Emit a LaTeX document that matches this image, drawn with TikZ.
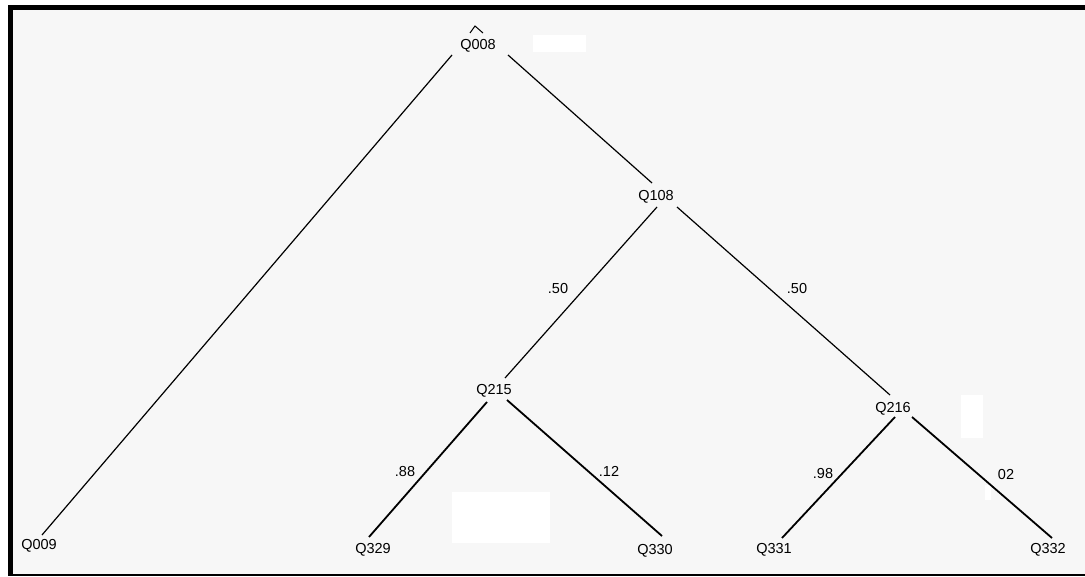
\documentclass[tikz,border=0pt]{standalone}
\usepackage{fontspec}
\setmainfont{Liberation Sans}
\usepackage{tikz}
\colorlet{paper}{black!3}
\colorlet{ink}{black}
\def\thin{1.2pt}
\def\thick{1.8pt}

\begin{document}
\begin{tikzpicture}[x=1pt, y=-1pt,
    lbl/.style={inner sep=0pt, text height=10pt, text depth=0pt, text=ink,
      font=\fontsize{14.5}{14.5}\selectfont},
    upper/.style={line width=\thin, ink},
    lower/.style={line width=\thick, ink}]
  \useasboundingbox (0,0) rectangle (1085,577);

  % sheet and frame
  \fill[paper] (8,5) rectangle (1085,576);
  \fill (8,5) rectangle (1085,10);
  \fill (8,5) rectangle (13,576);
  \fill (8,574) rectangle (1085,576);

  % blanked patches
  \fill[white] (533,35) rectangle (586,52);
  \fill[white] (452,492) rectangle (550,543);
  \fill[white] (961,395) rectangle (983,438);
  \fill[white] (985,485) rectangle (991,500);

  % nodes
  \node[lbl] (q008) at (478,45) {Q008};
  \node[lbl] (q108) at (656,196) {Q108};
  \node[lbl] (q215) at (494,390) {Q215};
  \node[lbl] (q216) at (893,408) {Q216};
  \node[lbl] (q009) at (39,544) {Q009};
  \node[lbl] (q329) at (373,548) {Q329};
  \node[lbl] (q330) at (655,549) {Q330};
  \node[lbl] (q331) at (774,548) {Q331};
  \node[lbl] (q332) at (1048,548) {Q332};

  \draw[line width=1pt, ink] (470,33) -- (475,26) -- (483,33);

  % branches
  \draw[upper] ([shift={(-26,10)}]q008.center) -- ([shift={(3,-9)}]q009.center);
  \draw[upper] ([shift={(30,10)}]q008.center) -- ([shift={(-4,-13)}]q108.center);
  \draw[upper] ([shift={(1,11)}]q108.center) -- ([shift={(11,-12)}]q215.center);
  \draw[upper] ([shift={(21,11)}]q108.center) -- ([shift={(-3,-13)}]q216.center);
  \draw[lower] ([shift={(-7,12)}]q215.center) -- ([shift={(-4,-11)}]q329.center);
  \draw[lower] ([shift={(13,10)}]q215.center) -- ([shift={(7,-13)}]q330.center);
  \draw[lower] ([shift={(2,9)}]q216.center) -- ([shift={(8,-10)}]q331.center);
  \draw[lower] ([shift={(19,9)}]q216.center) -- ([shift={(4,-10)}]q332.center);

  % probabilities
  \node[lbl] (p50a) at (558,289) {.50};
  \node[lbl] (p50b) at (797,289) {.50};
  \node[lbl] (p88) at (405,471) {.88};
  \node[lbl] (p12) at (609,471) {.12};
  \node[lbl] (p98) at (823,473) {.98};
  \node[lbl] (p02) at (1006,474) {02};
\end{tikzpicture}
\end{document}
